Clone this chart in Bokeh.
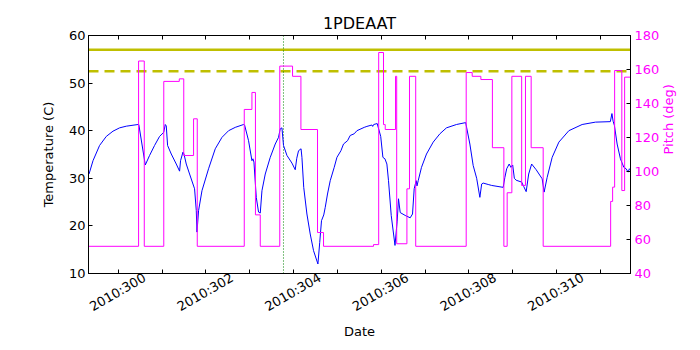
import math
from bokeh.plotting import figure
from bokeh.models import Range1d, LinearAxis, FixedTicker, Span
from bokeh.embed import file_html
from bokeh.resources import INLINE

# ---- tick values / labels ----
date_ticks = [300, 302, 304, 306, 308, 310]
date_tick_labels = ["2010:300", "2010:302", "2010:304", "2010:306", "2010:308", "2010:310"]
date_minor_ticks = [301, 303, 305, 307, 309, 311]
temp_ticks = [10, 20, 30, 40, 50, 60]
pitch_ticks = [40, 60, 80, 100, 120, 140, 160, 180]

# ---- temperature (day of year, deg C) ----
temp_time = [299.332, 299.423, 299.573, 299.726, 299.879, 300.030, 300.183, 300.449, 300.468,
             300.616, 300.714, 300.828, 300.942, 301.020, 301.038, 301.072, 301.095, 301.125,
             301.209, 301.323, 301.399, 301.421, 301.476, 301.499, 301.551, 301.627, 301.704,
             301.741, 301.780, 301.796, 301.832, 301.910, 302.060, 302.213, 302.366, 302.517,
             302.669, 302.859, 302.882, 302.973, 303.050, 303.073, 303.096, 303.149, 303.201,
             303.240, 303.279, 303.354, 303.468, 303.582, 303.657, 303.696, 303.735, 303.771,
             303.849, 303.963, 304.038, 304.073, 304.114, 304.171, 304.191, 304.232, 304.305,
             304.380, 304.456, 304.556, 304.597, 304.638, 304.689, 304.723, 304.775, 304.837,
             304.928, 304.990, 305.081, 305.140, 305.232, 305.293, 305.384, 305.446, 305.613,
             305.674, 305.788, 305.806, 305.829, 305.909, 305.989, 306.039, 306.085, 306.130,
             306.167, 306.229, 306.315, 306.365, 306.395, 306.434, 306.548, 306.662, 306.715,
             306.753, 306.799, 306.817, 306.845, 306.920, 307.034, 307.187, 307.340, 307.490,
             307.718, 307.928, 308.024, 308.099, 308.179, 308.252, 308.293, 308.327, 308.442,
             308.522, 308.784, 308.823, 308.864, 308.921, 308.960, 309.001, 309.039, 309.080,
             309.206, 309.252, 309.309, 309.366, 309.434, 309.537, 309.674, 309.719, 309.788,
             309.902, 310.055, 310.283, 310.586, 310.890, 311.230, 311.266, 311.293, 311.323,
             311.385, 311.460, 311.538, 311.590, 311.636, 311.665, 311.681]
temp_vals = [30.9, 33.7, 36.9, 38.8, 39.9, 40.6, 40.95, 41.3, 41.3,
             32.8, 34.8, 36.9, 38.8, 39.5, 39.7, 41.3, 41.0, 36.9,
             35.1, 33.0, 31.5, 33.7, 35.5, 35.1, 33.0, 30.9, 28.8,
             27.8, 23.2, 18.7, 23.2, 27.4, 32.0, 36.2, 38.6, 40.0,
             40.7, 41.3, 41.2, 37.9, 33.7, 34.1, 33.4, 26.0, 22.9,
             22.7, 27.4, 30.9, 34.4, 37.2, 38.6, 40.4, 40.6, 36.9,
             34.8, 33.2, 31.8, 34.2, 35.8, 36.2, 34.4, 28.1, 22.5,
             18.3, 14.8, 12.0, 16.5, 21.1, 22.3, 23.9, 26.7, 29.5,
             32.3, 34.4, 35.8, 37.2, 37.9, 39.0, 39.35, 40.0, 40.7,
             40.9, 41.2, 40.9, 41.3, 41.5, 38.8, 34.4, 34.1, 33.0,
             29.5, 22.2, 15.9, 21.0, 25.7, 22.8, 22.2, 21.7, 22.5,
             27.8, 29.5, 28.4, 29.5, 32.3, 35.1, 37.6, 39.35, 40.6,
             41.3, 41.7, 37.2, 32.7, 30.0, 26.0, 28.8, 29.0, 28.7,
             28.5, 28.1, 30.2, 32.0, 33.0, 32.3, 32.8, 30.0, 29.6,
             29.2, 28.3, 27.2, 30.9, 33.0, 31.8, 29.9, 27.1, 30.2,
             34.4, 37.6, 40.0, 41.3, 41.8, 41.9, 43.6, 42.0, 41.1,
             37.2, 34.1, 32.3, 32.0, 31.3, 32.0, 31.8]

# ---- pitch (day of year, deg), step changes ----
pitch_time = [299.32, 300.463, 300.593, 301.038, 301.392, 301.494, 301.718, 301.802, 302.875,
              303.050, 303.130, 303.240, 303.685, 303.977, 304.168, 304.547, 304.684, 305.825,
              305.943, 306.053, 306.092, 306.327, 306.354, 306.587, 306.646, 306.788, 307.940,
              308.077, 308.275, 308.538, 308.800, 308.875, 308.982, 309.206, 309.293, 309.423,
              309.697, 311.237, 311.282, 311.328, 311.492, 311.556, 311.69]
pitch_vals = [56, 165, 56, 153, 154.5, 109.4, 131, 56, 136.5,
              146.5, 74.5, 56, 162, 156, 124.7, 64.1, 56, 57,
              170, 127.6, 124.7, 156, 57.5, 89.8, 156, 56, 158.2,
              156, 154.1, 114, 56, 87.5, 156, 91.8, 156, 114,
              56, 82.4, 90.8, 159.4, 88.8, 155.5, 155.5]

yellow_limit = 57.0
planning_limit = 52.5
event_day = 303.77

x_start, x_end = 299.32, 311.69
temp_lo, temp_hi = 10, 60
pitch_lo, pitch_hi = 40, 180

FONT = "DejaVu Sans"
FS = "13px"
LABEL_SHIFT = 0.60  # days: Bokeh right-aligns rotated labels; shift so they sit centred on ticks

p = figure(frame_width=542, frame_height=238,
           x_range=Range1d(x_start, x_end), y_range=Range1d(temp_lo, temp_hi),
           output_backend="svg", toolbar_location=None, title="1PDEAAT",
           min_border_left=88, min_border_right=68, min_border_top=35, min_border_bottom=75)
p.extra_y_ranges = {"pitch": Range1d(pitch_lo, pitch_hi)}

p.title.text_font = FONT
p.title.text_font_size = "16px"
p.title.text_font_style = "normal"
p.title.text_color = "black"
p.title.align = "center"
p.title.offset = 0
p.title.standoff = 6

p.grid.visible = False
p.outline_line_color = "black"
p.outline_line_width = 1
p.background_fill_color = "white"
p.border_fill_color = "white"

def style_axis(ax):
    ax.major_tick_in = 4
    ax.major_tick_out = 0
    ax.minor_tick_in = 4
    ax.minor_tick_out = 0
    ax.axis_line_color = "black"
    ax.major_tick_line_color = "black"
    ax.minor_tick_line_color = "black"
    ax.major_label_text_font = FONT
    ax.major_label_text_font_size = FS
    ax.major_label_text_color = "black"
    ax.axis_label_text_font = FONT
    ax.axis_label_text_font_size = FS
    ax.axis_label_text_font_style = "normal"
    ax.axis_label_text_color = "black"

all_days = sorted(date_ticks + date_minor_ticks)
label_pos = [d + LABEL_SHIFT for d in date_ticks]

# bottom axis: tick marks at every day (minor ticks), labels carried by shifted major ticks
xa = p.xaxis[0]
xa.ticker = FixedTicker(ticks=label_pos, minor_ticks=all_days)
xa.major_label_overrides = dict(zip(label_pos, date_tick_labels))
xa.major_label_orientation = math.pi / 6
xa.axis_label = "Date"
style_axis(xa)
xa.major_tick_in = 0
xa.major_label_standoff = 3
xa.axis_label_standoff = 0

ya = p.yaxis[0]
ya.ticker = FixedTicker(ticks=temp_ticks, minor_ticks=[])
ya.axis_label = "Temperature (C)"
style_axis(ya)
ya.major_label_standoff = 3
ya.axis_label_standoff = 10

ra = LinearAxis(y_range_name="pitch", ticker=FixedTicker(ticks=pitch_ticks, minor_ticks=[]),
                axis_label="Pitch (deg)")
style_axis(ra)
ra.major_label_text_color = "#ff00ff"
ra.axis_label_text_color = "#ff00ff"
ra.major_label_standoff = 4
ra.axis_label_standoff = 6
ra.axis_label_orientation = math.pi / 2
p.add_layout(ra, "right")

ta = LinearAxis(ticker=FixedTicker(ticks=[], minor_ticks=all_days))
style_axis(ta)
p.add_layout(ta, "above")

for loc, dash in [(yellow_limit, "solid"), (planning_limit, "10 6")]:
    p.add_layout(Span(location=loc, dimension="width", line_color="#bfbf00",
                      line_width=2.5, line_dash=dash, level="underlay"))
p.add_layout(Span(location=event_day, dimension="height", line_color="#008000",
                  line_width=1, line_dash="1 2", level="underlay"))

p.line(temp_time, temp_vals, line_color="#0000ff", line_width=1)
p.step(pitch_time, pitch_vals, mode="after", line_color="#ff00ff", line_width=1,
       y_range_name="pitch")

open("out.html", "w").write(file_html(p, INLINE))
